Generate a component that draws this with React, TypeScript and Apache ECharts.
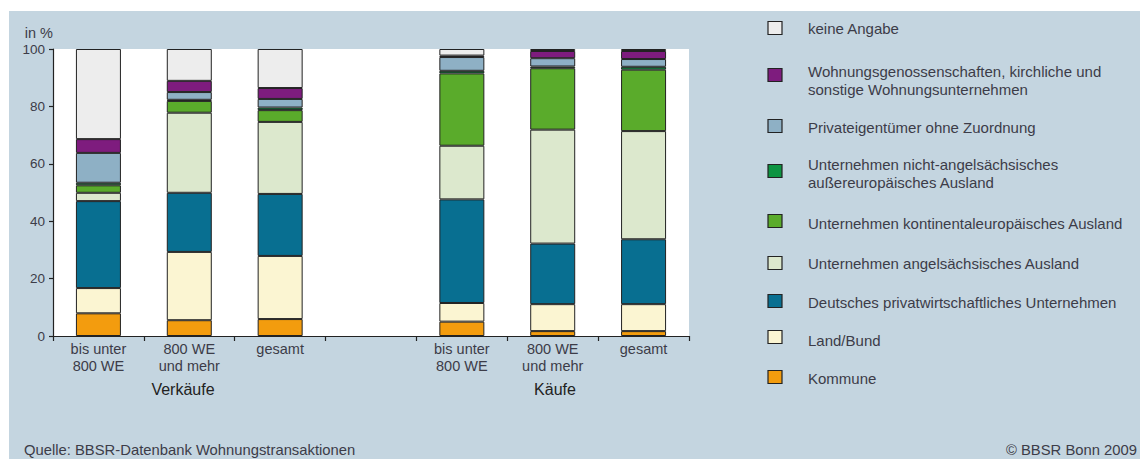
import React, { useEffect, useRef } from "react";
import * as echarts from "echarts";

// Categories: three sales groups, an empty spacer slot, three purchase groups
const categories = ["v-lt800", "v-ge800", "v-total", "gap", "k-lt800", "k-ge800", "k-total"];
const categoryLabels = ["bis unter\n800 WE", "800 WE\nund mehr", "gesamt", "", "bis unter\n800 WE", "800 WE\nund mehr", "gesamt"];
const groupLabels = ["Verkäufe", "Käufe"];

// Shares in % per buyer/seller type (bottom to top of each stack)
const kommune = [7.9, 5.5, 5.9, null, 5.0, 1.7, 1.7];
const landBund = [8.8, 23.8, 22.0, null, 6.5, 9.4, 9.4];
const deutsches = [30.3, 20.6, 21.6, null, 36.1, 21.1, 22.6];
const angelsaechsisch = [2.9, 27.9, 25.1, null, 18.7, 39.7, 37.7];
const kontinental = [2.6, 4.1, 4.1, null, 25.2, 21.4, 21.4];
const nichtAngelsaechsisch = [0.9, 0.4, 0.9, null, 0.9, 0.6, 1.0];
const privateigentuemer = [10.4, 2.7, 3.0, null, 4.8, 2.9, 2.7];
const genossenschaften = [4.8, 3.9, 3.8, null, 0.5, 2.5, 2.8];
const keineAngabe = [31.4, 11.1, 13.6, null, 2.3, 0.7, 0.7];

const yTicks = [0, 20, 40, 60, 80, 100];

const stackSeries = [
  { name: "Kommune", data: kommune, color: "#f39c0e" },
  { name: "Land/Bund", data: landBund, color: "#fbf5d2" },
  { name: "Deutsches privatwirtschaftliches Unternehmen", data: deutsches, color: "#086f91" },
  { name: "Unternehmen angelsächsisches Ausland", data: angelsaechsisch, color: "#dce8cd" },
  { name: "Unternehmen kontinentaleuropäisches Ausland", data: kontinental, color: "#5aab2b" },
  { name: "Unternehmen nicht-angelsächsisches\naußereuropäisches Ausland", data: nichtAngelsaechsisch, color: "#0d9442" },
  { name: "Privateigentümer ohne Zuordnung", data: privateigentuemer, color: "#8eb0c5" },
  { name: "Wohnungsgenossenschaften, kirchliche und\nsonstige Wohnungsunternehmen", data: genossenschaften, color: "#7e1c7e" },
  { name: "keine Angabe", data: keineAngabe, color: "#ededed" },
];

// Legend layout (top to bottom): marker centre and first text line centre
const legendRows = [
  { marker: 28, text: 28 },
  { marker: 75, text: 71 },
  { marker: 126, text: 127 },
  { marker: 171, text: 164 },
  { marker: 221, text: 223 },
  { marker: 263, text: 263 },
  { marker: 301, text: 302 },
  { marker: 337, text: 340 },
  { marker: 377, text: 378 },
];

const FONT = "'Liberation Sans', Arial, Helvetica, sans-serif";
const TEXT = "#3c3c48";

export default function App() {
  const ref = useRef<HTMLDivElement>(null);

  useEffect(() => {
    if (!ref.current) return;
    const chart = echarts.init(ref.current, undefined, { renderer: "svg" });

    const legendItems = [...stackSeries].reverse();
    const legendGraphics: any[] = [];
    legendItems.forEach((s, i) => {
      const row = legendRows[i];
      legendGraphics.push({
        type: "rect",
        shape: { x: 768, y: row.marker - 6.5, width: 14, height: 13 },
        style: { fill: s.color, stroke: "#222", lineWidth: 1.2 },
      });
      legendGraphics.push({
        type: "text",
        x: 808,
        y: row.text - 9,
        style: {
          text: s.name,
          font: `15px ${FONT}`,
          fill: TEXT,
          lineHeight: 18,
          verticalAlign: "top",
        },
      });
    });

    chart.setOption({
      animation: false,
      textStyle: { fontFamily: FONT },
      grid: {
        left: 53,
        top: 49,
        width: 636,
        height: 287,
        show: true,
        backgroundColor: "#ffffff",
        borderWidth: 0,
      },
      xAxis: {
        type: "category",
        data: categories,
        axisLine: { lineStyle: { color: "#222", width: 1.2 } },
        axisTick: { show: true, length: 5, lineStyle: { color: "#222", width: 1.2 } },
        axisLabel: {
          interval: 0,
          margin: 4,
          color: TEXT,
          fontSize: 14.5,
          lineHeight: 17,
          fontFamily: FONT,
          formatter: (_v: string, idx: number) => categoryLabels[idx],
        },
      },
      yAxis: {
        type: "value",
        min: yTicks[0],
        max: yTicks[yTicks.length - 1],
        interval: 20,
        name: "in %",
        nameLocation: "end",
        nameGap: 9,
        nameTextStyle: { color: TEXT, fontSize: 14.5, align: "right", fontFamily: FONT },
        axisLine: { show: true, lineStyle: { color: "#222", width: 1.2 } },
        axisTick: { show: true, length: 4, lineStyle: { color: "#222", width: 1.2 } },
        splitLine: { show: false },
        axisLabel: { color: TEXT, fontSize: 13.5, margin: 8, fontFamily: FONT },
      },
      series: stackSeries.map((s) => ({
        name: s.name,
        type: "bar",
        stack: "total",
        barWidth: 45,
        data: s.data.map((v) => (v === null ? "-" : v)),
        itemStyle: { color: s.color, borderColor: "#222", borderWidth: 1 },
        emphasis: { disabled: true },
      })),
      graphic: [
        {
          type: "text",
          x: 183,
          y: 389,
          style: { text: groupLabels[0], font: `16px ${FONT}`, fill: "#222", align: "center", verticalAlign: "middle" },
        },
        {
          type: "text",
          x: 555,
          y: 389,
          style: { text: groupLabels[1], font: `16px ${FONT}`, fill: "#222", align: "center", verticalAlign: "middle" },
        },
        {
          type: "text",
          x: 24,
          y: 450,
          style: { text: "Quelle: BBSR-Datenbank Wohnungstransaktionen", font: `14.8px ${FONT}`, fill: TEXT, verticalAlign: "middle" },
        },
        {
          type: "text",
          x: 1137,
          y: 450,
          style: { text: "© BBSR Bonn 2009", font: `14.8px ${FONT}`, fill: TEXT, align: "right", verticalAlign: "middle" },
        },
        ...legendGraphics,
      ],
    });

    return () => chart.dispose();
  }, []);

  return (
    <div style={{ position: "fixed", left: 0, top: 0, width: 1140, height: 459, background: "#ffffff" }}>
      <div style={{ position: "absolute", left: 9, top: 11, right: 0, bottom: 0, background: "#c4d5e0" }} />
      <div ref={ref} style={{ position: "absolute", left: 0, top: 0, width: 1140, height: 459 }} />
    </div>
  );
}
